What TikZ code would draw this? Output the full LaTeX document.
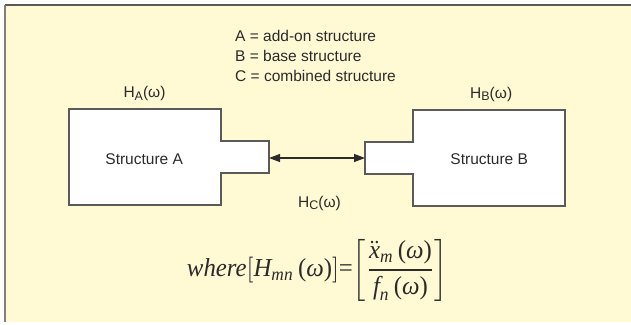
\documentclass[tikz,border=0pt]{standalone}
\usepackage{amsmath}
\usepackage{fontspec}
\usepackage{graphicx}
\setmainfont{Liberation Sans}
\newfontfamily\serfont{Liberation Serif}
\usetikzlibrary{arrows.meta}
\definecolor{cream}{HTML}{FFF9D4}
\definecolor{ink}{HTML}{2B2B2B}
\definecolor{edge}{HTML}{5A5A5A}
\tikzset{
  lbl/.style={text=ink, inner sep=0pt, font=\fontsize{15.5}{20}\selectfont},
  structbox/.style={draw=edge, line width=1.1pt, fill=white, line join=miter},
  link/.style={draw=ink, line width=1.1pt, {Triangle[length=11pt,width=8pt]}-{Triangle[length=11pt,width=8pt]}},
}
\newcommand{\Hsub}[1]{H\raisebox{-0.35ex}{\fontsize{12.5}{14}\selectfont #1}(ω)}
\newcommand{\fit}[1]{\text{\serfont\itshape #1}}
\newcommand{\fup}[1]{\text{\serfont #1}}
\begin{document}
\begin{tikzpicture}[x=1pt,y=-1pt]
\useasboundingbox (0,0) rectangle (631,324);
% background panel
\fill[white] (0,0) rectangle (631,324);
\fill[cream] (5,5) rectangle (631,322);
\draw[draw=edge, line width=1.6pt] (5,5) -- (631,5);
\draw[draw=gray, line width=1.6pt] (5,5) -- (5,322);
% legend
\node[lbl, anchor=base west] (legA) at (235,41.7) {A = add-on structure};
\node[lbl, anchor=base west] (legB) at (235,61.7) {B = base structure};
\node[lbl, anchor=base west] (legC) at (235,81.7) {C = combined structure};
% structure A
\draw[structbox] (69,109) -- (221,109) -- (221,141) -- (269,141) -- (269,173) -- (221,173) -- (221,205) -- (69,205) -- cycle;
% structure B
\draw[structbox] (413,110) -- (565,110) -- (565,206) -- (413,206) -- (413,174) -- (365,174) -- (365,142) -- (413,142) -- cycle;
\coordinate (tabA) at (269,158);
\coordinate (tabB) at (365,158);
\node[lbl, anchor=base] (sA) at (144.2,164.3) {Structure A};
\node[lbl, anchor=base] (sB) at (489.2,164.3) {Structure B};
\node[lbl, anchor=base west] (hA) at (123.3,97.3) {\Hsub{A}};
\node[lbl, anchor=base west] (hB) at (470,98) {\Hsub{B}};
\node[lbl, anchor=base west] (hC) at (298,207) {\Hsub{C}};
\draw[link] (tabA) -- (tabB);
% formula
\node[text=ink, inner sep=0pt] (formula) at (317.5,270) {\resizebox*{261pt}{62pt}{$\fit{where}\!\left[\fit{H}_{\fit{mn}}\,\fup{(}\fit{ω}\fup{)}\right]\!\fup{=}\!\left[\displaystyle\frac{\ddot{\fit{x}}_{\fit{m}}\,\fup{(}\fit{ω}\fup{)}}{\fit{f}_{\fit{n}}\,\fup{(}\fit{ω}\fup{)}}\right]$}};
\end{tikzpicture}
\end{document}
